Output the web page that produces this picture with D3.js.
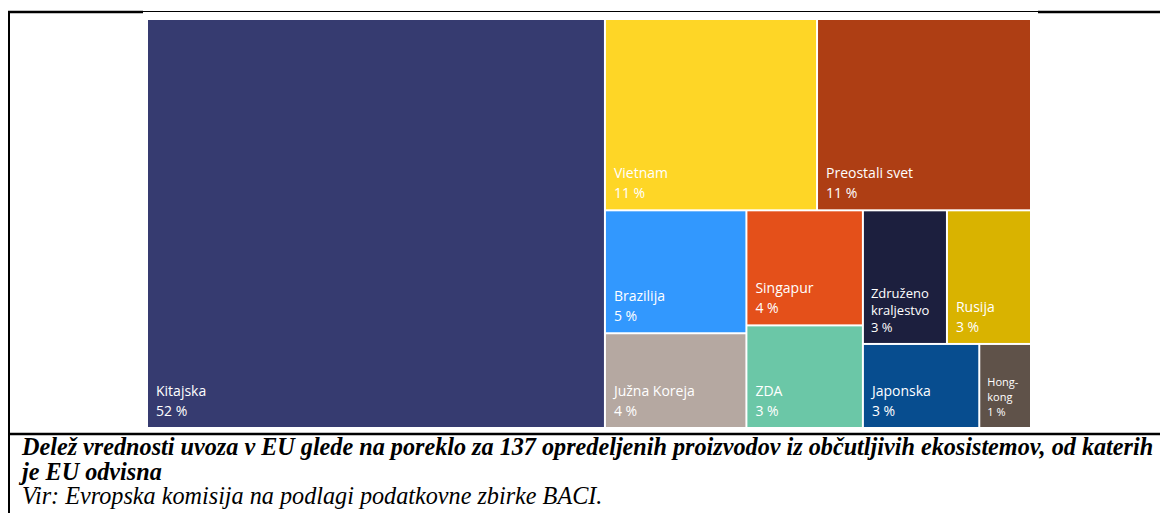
<!DOCTYPE html>
<html>
<head>
<meta charset="utf-8">
<script src="https://cdn.jsdelivr.net/npm/d3@7"></script>
<style>
html,body{margin:0;padding:0;background:#fff;}
svg{display:block;}
</style>
</head>
<body>
<div id="chart"></div>
<script>
(function(){

// data: share of EU import value by origin (%)
const countries = ["Kitajska","Vietnam","Preostali svet","Brazilija","Južna Koreja","Singapur","ZDA","Združeno kraljestvo","Rusija","Japonska","Hong-kong"];
const shares = [51.7, 11.2, 11.3, 4.8, 3.7, 3.7, 3.3, 3.1, 3.1, 2.7, 1.2];
const colors = ["#363b70","#fed626","#ae3e14","#3298fe","#b5a8a1","#e4501a","#6bc7a7","#1c1f3e","#d9b300","#074d8f","#5f5249"];

const captionTitle = ["Delež vrednosti uvoza v EU glede na poreklo za 137 opredeljenih proizvodov iz občutljivih ekosistemov, od katerih","je EU odvisna"];
const captionSource = "Vir: Evropska komisija na podlagi podatkovne zbirke BACI.";

const width = 1160;
const height = 513;

const svg = d3.select("#chart")
.append("svg")
.attr("width",width)
.attr("height",height);

// -------------------
// FRAME
// -------------------

const frame = svg.append("g").attr("stroke","#000");
frame.append("line").attr("x1",8).attr("x2",143).attr("y1",12).attr("y2",12).attr("stroke-width",2.5);
frame.append("line").attr("x1",143).attr("x2",1038).attr("y1",11.5).attr("y2",11.5).attr("stroke-width",1);
frame.append("line").attr("x1",1038).attr("x2",width).attr("y1",12).attr("y2",12).attr("stroke-width",2.5);
frame.append("line").attr("x1",9).attr("x2",9).attr("y1",11).attr("y2",height).attr("stroke-width",2);
frame.append("line").attr("x1",8).attr("x2",width).attr("y1",434).attr("y2",434).attr("stroke-width",2.5);

// -------------------
// TREEMAP
// -------------------

// nesting mirrors the layout of the original (slice / dice alternate by depth)
const leaf = i => ({name:countries[i], value:shares[i], color:colors[i]});
const tree = {children:[
  leaf(0),
  {children:[
    {children:[leaf(1),leaf(2)]},
    {children:[
      {children:[leaf(3),leaf(4)]},
      {children:[leaf(5),leaf(6)]},
      {children:[
        {children:[leaf(7),leaf(8)]},
        {children:[leaf(9),leaf(10)]}
      ]}
    ]}
  ]}
]};

const root = d3.hierarchy(tree).sum(d=>d.value||0);

d3.treemap()
.tile(d3.treemapSliceDice)
.size([882,407])
.paddingInner(2)
(root);

const map = svg.append("g").attr("transform","translate(148,20)");

const cells = map.selectAll("g.cell")
.data(root.leaves())
.enter()
.append("g")
.attr("class","cell")
.attr("transform",d=>`translate(${d.x0},${d.y0})`);

cells.append("rect")
.attr("width",d=>d.x1-d.x0)
.attr("height",d=>d.y1-d.y0)
.attr("fill",d=>d.data.color);

// labels sit in the bottom-left corner; narrow cells wrap with a smaller font
const wrapped = {
  "Združeno kraljestvo":{size:13, step:17, lines:["Združeno","kraljestvo"]},
  "Hong-kong":{size:11, step:15, lines:["Hong-","kong"]}
};

cells.each(function(d){
  const w = wrapped[d.data.name];
  const size = w ? w.size : 14;
  const step = w ? w.step : 20;
  const lines = (w ? w.lines : [d.data.name]).concat([Math.round(d.data.value) + " %"]);
  const h = d.y1 - d.y0;
  const t = d3.select(this).append("text")
  .attr("fill","#fff")
  .style("font-family","'Open Sans', 'Noto Sans', sans-serif")
  .style("font-size",size+"px");
  lines.forEach((s,i)=>{
    t.append("tspan")
    .attr("x", w ? 7 : 8)
    .attr("y", h - 11 - (lines.length-1-i)*step)
    .text(s);
  });
});

// -------------------
// CAPTION
// -------------------

const cap = svg.append("g")
.style("font-family","'Liberation Serif', 'Times New Roman', serif")
.style("font-style","italic")
.style("font-size","24.2px");

cap.selectAll("text.title")
.data(captionTitle)
.enter()
.append("text")
.attr("class","title")
.attr("x",22)
.attr("y",(d,i)=>455 + i*24.5)
.style("font-weight","bold")
.text(d=>d);

cap.append("text")
.attr("x",22)
.attr("y",504)
.text(captionSource);

})();
</script>
</body>
</html>
